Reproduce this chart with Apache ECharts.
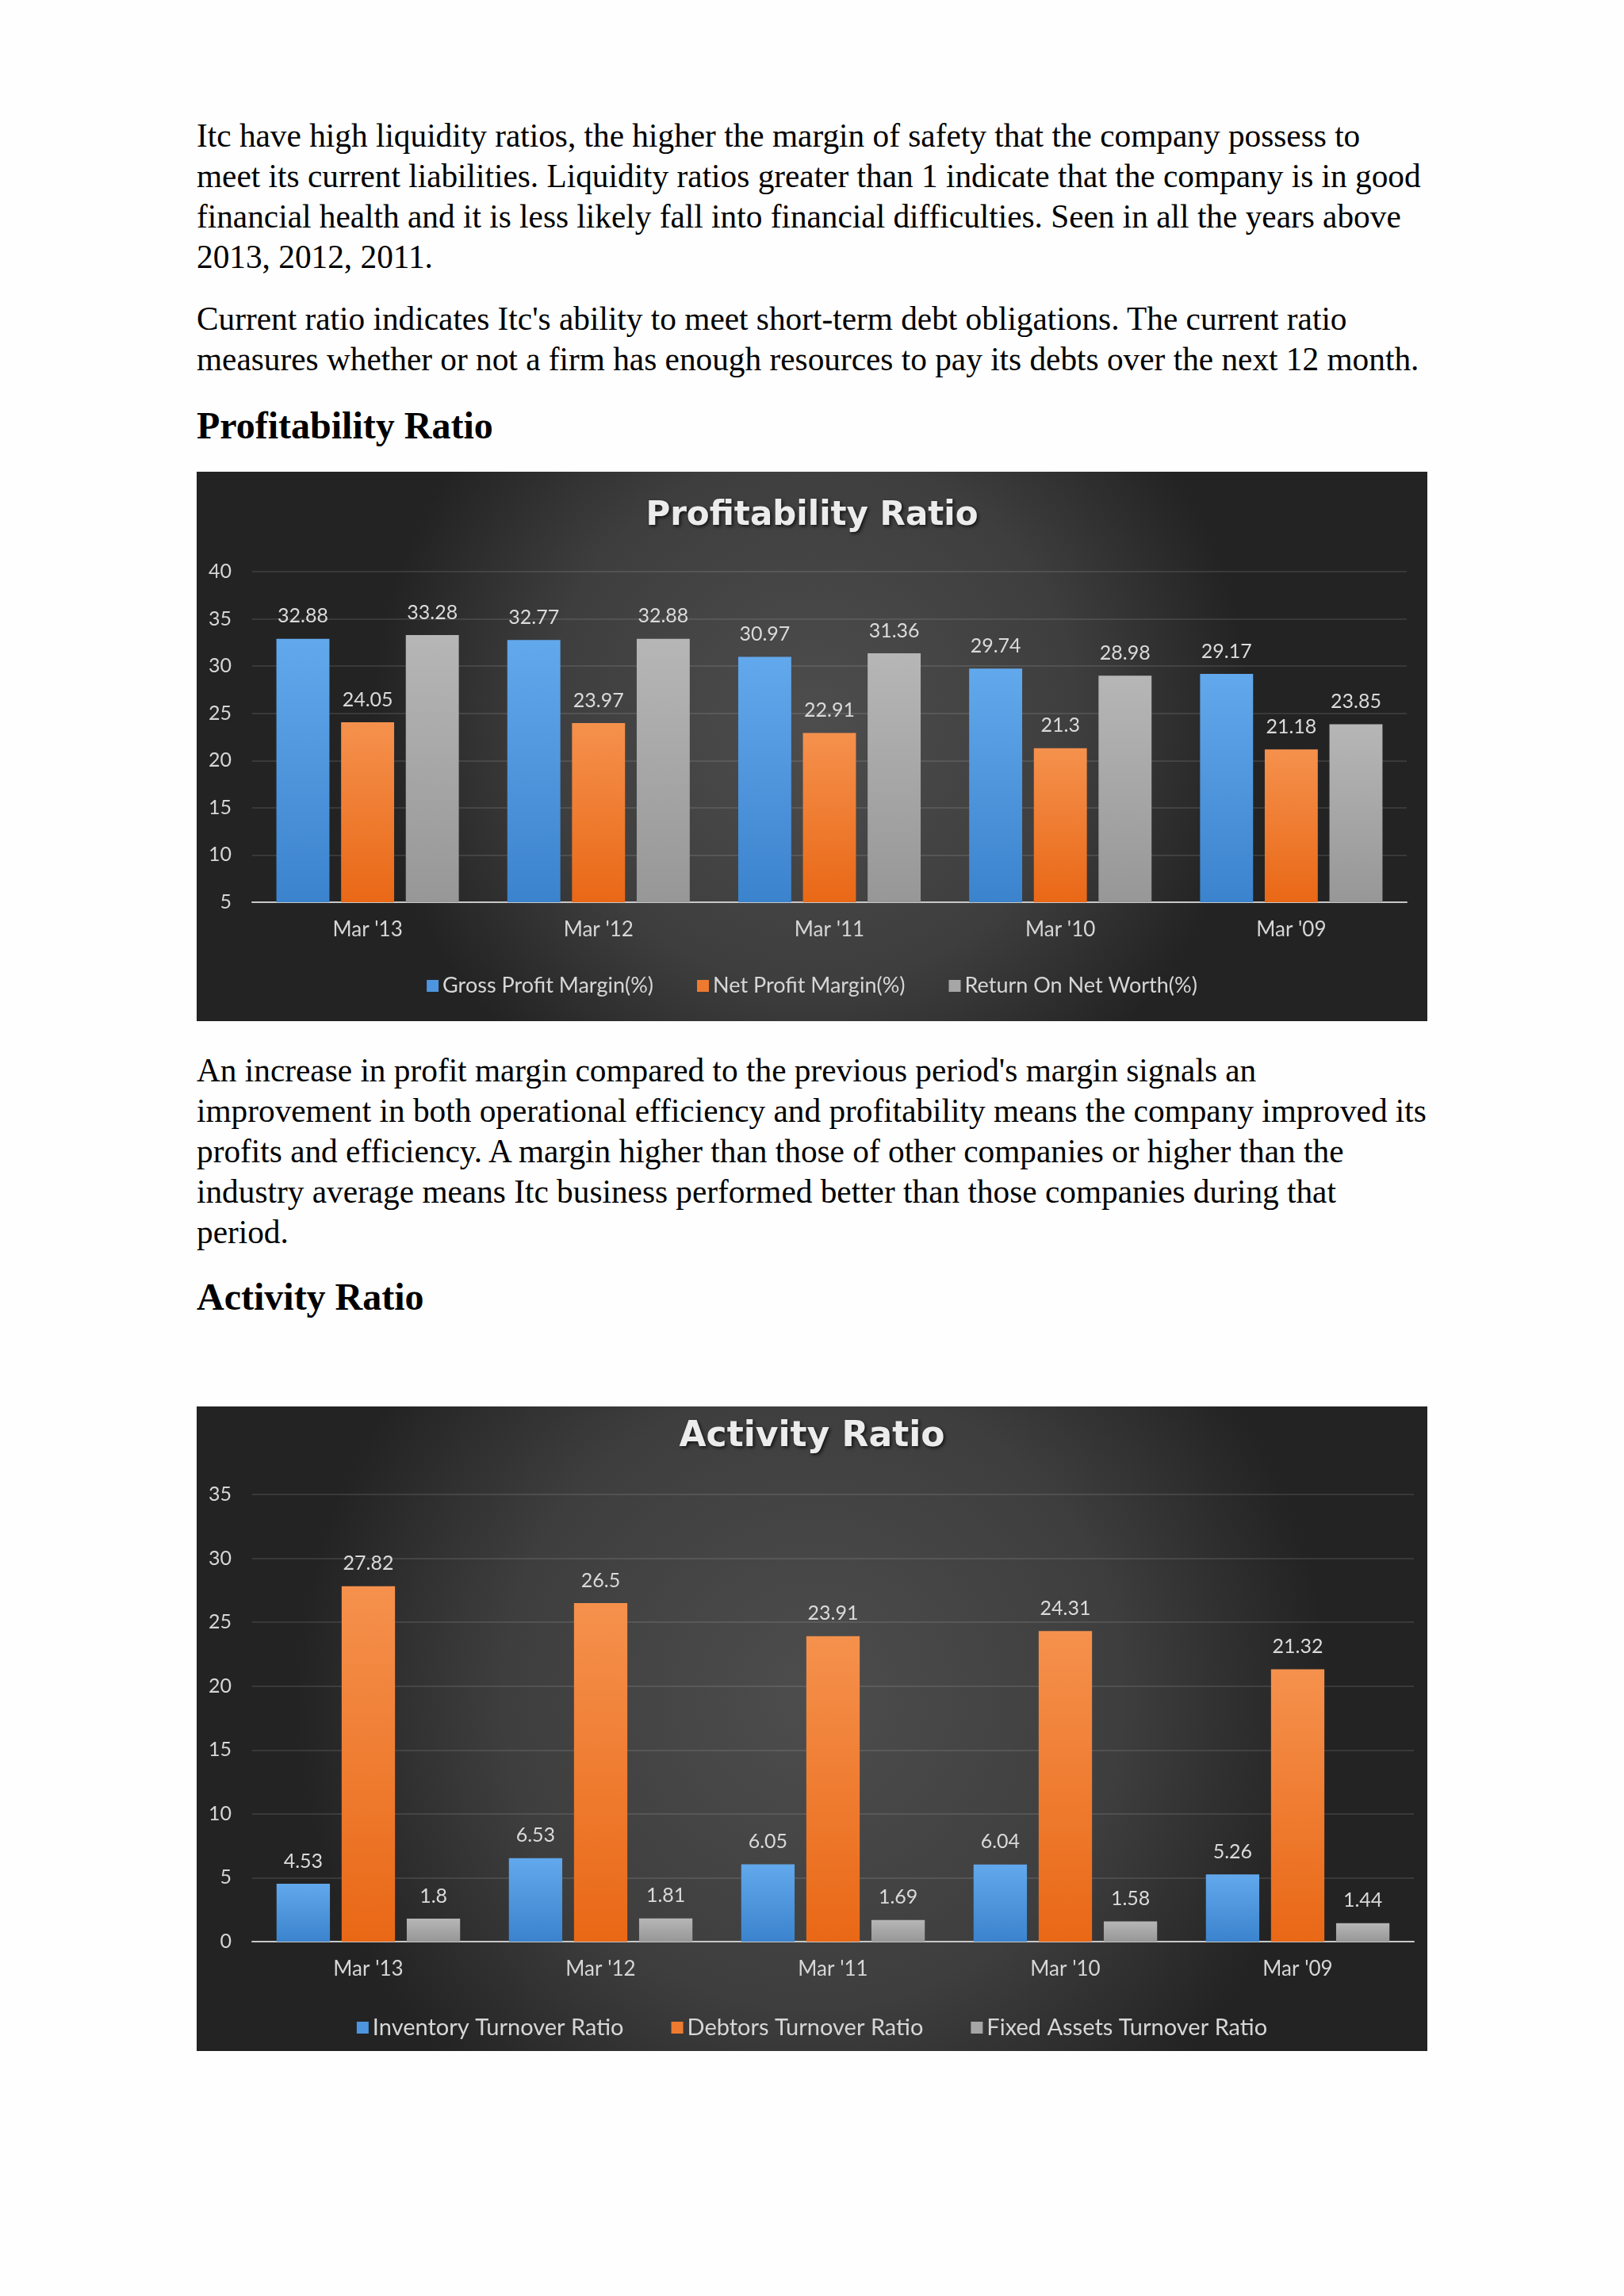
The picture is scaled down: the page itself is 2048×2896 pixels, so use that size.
<!DOCTYPE html>
<html>
<head>
<meta charset="utf-8">
<script src="https://cdn.jsdelivr.net/npm/echarts@6/dist/echarts.min.js"></script>
<style>
  html, body { margin: 0; padding: 0; background: #fefefe; }
  #page { position: relative; width: 2048px; height: 2896px; background: #fefefe; overflow: hidden; }
  .p { position: absolute; left: 248px; font-family: "Liberation Serif", "Times New Roman", serif; font-size: 41.3px; line-height: 51px; color: #000; white-space: nowrap; }
  .h { position: absolute; left: 248px; font-family: "Liberation Serif", "Times New Roman", serif; font-size: 48px; font-weight: bold; line-height: 56px; color: #000; white-space: nowrap; }
  .chart { position: absolute; left: 248px; width: 1552px; }
</style>
</head>
<body>
<div id="page">
  <div class="p" style="top:146px">Itc have high liquidity ratios, the higher the margin of safety that the company possess to<br>meet its current liabilities. Liquidity ratios greater than 1 indicate that the company is in good<br>financial health and it is less likely fall into financial difficulties. Seen in all the years above<br>2013, 2012, 2011.</div>
  <div class="p" style="top:377px">Current ratio indicates Itc's ability to meet short-term debt obligations. The current ratio<br>measures whether or not a firm has enough resources to pay its debts over the next 12 month.</div>
  <div class="h" style="top:509px">Profitability Ratio</div>
  <div id="c1" class="chart" style="top:595px;height:693px"></div>
  <div class="p" style="top:1325px">An increase in profit margin compared to the previous period's margin signals an<br>improvement in both operational efficiency and profitability means the company improved its<br>profits and efficiency. A margin higher than those of other companies or higher than the<br>industry average means Itc business performed better than those companies during that<br>period.</div>
  <div class="h" style="top:1608px">Activity Ratio</div>
  <div id="c2" class="chart" style="top:1774px;height:813px"></div>
</div>
<script>
// ---- data ----
const categories = ["Mar '13", "Mar '12", "Mar '11", "Mar '10", "Mar '09"];

const profitSeriesNames = ["Gross Profit Margin(%)", "Net Profit Margin(%)", "Return On Net Worth(%)"];
const grossProfitMargin = [32.88, 32.77, 30.97, 29.74, 29.17];
const netProfitMargin = [24.05, 23.97, 22.91, 21.3, 21.18];
const returnOnNetWorth = [33.28, 32.88, 31.36, 28.98, 23.85];
const profitTicks = { min: 5, max: 40, interval: 5 };

const activitySeriesNames = ["Inventory Turnover Ratio", "Debtors Turnover Ratio", "Fixed Assets Turnover Ratio"];
const inventoryTurnover = [4.53, 6.53, 6.05, 6.04, 5.26];
const debtorsTurnover = [27.82, 26.5, 23.91, 24.31, 21.32];
const fixedAssetsTurnover = [1.8, 1.81, 1.69, 1.58, 1.44];
const activityTicks = { min: 0, max: 35, interval: 5 };

// ---- styles ----
const FONT = 'Lato, "Open Sans", sans-serif';
function grad(top, bottom) {
  return { type: 'linear', x: 0, y: 0, x2: 0, y2: 1,
    colorStops: [{ offset: 0, color: top }, { offset: 1, color: bottom }] };
}
const fills = [grad('#62a8ec', '#3b83cd'), grad('#f5914d', '#e96816'), grad('#b6b6b6', '#979797')];
const legendColors = ['#4d95de', '#ee7a30', '#a6a6a6'];
const bg = { type: 'radial', x: 0.5, y: 0.45, r: 0.8,
  colorStops: [{ offset: 0, color: '#4d4d4d' }, { offset: 0.6, color: '#3e3e3e' }, { offset: 1, color: '#232323' }] };

function buildOption(title, titleTop, titleSize, names, seriesData, ticks, grid, legendTop, legendGap, legendSize) {
  return {
    backgroundColor: bg,
    animation: false,
    title: {
      text: title, left: 'center', top: titleTop,
      textStyle: { color: '#ececec', fontFamily: '"DejaVu Sans", sans-serif', fontWeight: 'bold', fontSize: titleSize,
        textShadowColor: 'rgba(0,0,0,0.7)', textShadowBlur: 4, textShadowOffsetX: 2, textShadowOffsetY: 2 }
    },
    legend: {
      top: legendTop, left: 'center', icon: 'rect', itemWidth: 15, itemHeight: 15, itemGap: legendGap,
      textStyle: { color: '#d6d6d6', fontFamily: FONT, fontSize: legendSize },
      data: names.map((n, i) => ({ name: n, itemStyle: { color: legendColors[i] } }))
    },
    grid: Object.assign({ containLabel: false }, grid),
    xAxis: {
      type: 'category', data: categories,
      axisLine: { lineStyle: { color: '#c8c8c8', width: 2 } },
      axisTick: { show: false },
      axisLabel: { color: '#d6d6d6', fontFamily: FONT, fontSize: 26, margin: 22 }
    },
    yAxis: {
      type: 'value', min: ticks.min, max: ticks.max, interval: ticks.interval,
      axisLine: { show: false }, axisTick: { show: false },
      axisLabel: { color: '#d6d6d6', fontFamily: FONT, fontSize: 25, margin: 26 },
      splitLine: { lineStyle: { color: 'rgba(255,255,255,0.10)', width: 2 } }
    },
    series: seriesData.map((d, i) => ({
      name: names[i], type: 'bar', data: d,
      barGap: '22%', barCategoryGap: '21%',
      itemStyle: { color: fills[i] },
      label: { show: true, position: 'top', distance: 16, color: '#dadada', fontFamily: FONT, fontSize: 25 }
    }))
  };
}

const c1 = echarts.init(document.getElementById('c1'));
c1.setOption(buildOption('Profitability Ratio', 30, 42, profitSeriesNames,
  [grossProfitMargin, netProfitMargin, returnOnNetWorth], profitTicks,
  { left: 70, right: 26, top: 126, bottom: 150 }, 630, 55, 27));

const c2 = echarts.init(document.getElementById('c2'));
c2.setOption(buildOption('Activity Ratio', 12, 44, activitySeriesNames,
  [inventoryTurnover, debtorsTurnover, fixedAssetsTurnover], activityTicks,
  { left: 70, right: 17, top: 111, bottom: 138 }, 764, 60, 29));
</script>
</body>
</html>
